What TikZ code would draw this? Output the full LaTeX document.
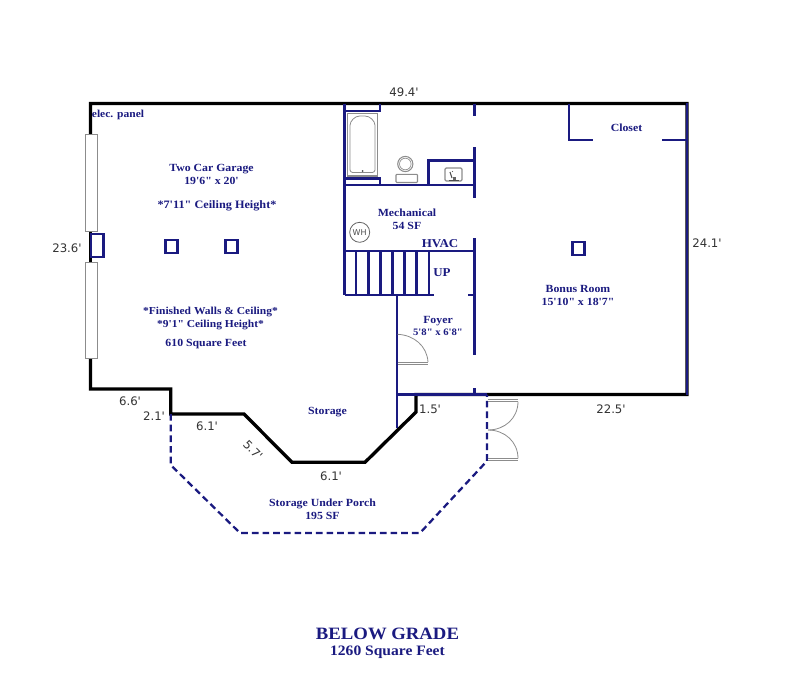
\documentclass[tikz,border=0pt]{standalone}
\usepackage{fontspec}
\setmainfont{Liberation Serif}[Ligatures=TeXOff,FakeStretch=1.08]
\newfontfamily\dimfont{DejaVu Sans}
\definecolor{navy}{HTML}{1A1A80}
\definecolor{fix}{HTML}{8C8C8C}
\tikzset{
  wall/.style={draw=black,line width=2.5pt,line join=miter},
  partition/.style={draw=navy,line width=1.9pt},
  dashwall/.style={draw=navy,line width=1.7pt,dash pattern=on 5pt off 3pt},
  fixture/.style={draw=fix,line width=0.6pt},
  slab/.style={draw=fix,line width=0.6pt,double=white,double distance=1.1pt},
  room/.style={text=navy,font=\bfseries\fontsize{8.2}{9.75}\selectfont,align=center,inner sep=0pt},
  dimlabel/.style={text=black!80,font=\dimfont\fontsize{8.8}{10}\selectfont,inner sep=0pt},
  post/.style={draw=navy,line width=1.7pt,fill=white}
}
\begin{document}
\begin{tikzpicture}[x=0.75pt,y=-0.75pt]
\useasboundingbox (0,0) rectangle (807,675);
% outer wall
\draw[wall] (90.5,135) -- (90.5,103.5) -- (687,103.5) -- (687,394.5) -- (416,394.5) -- (416,412) -- (365,462.3) -- (292,462.3) -- (244,414) -- (170.7,414) -- (170.7,389) -- (90.5,389) -- (90.5,355);
\draw[wall] (90.5,231) -- (90.5,262);
% navy overlays
\draw[partition] (687,102.5) -- (687,395);
\draw[partition] (397,394.5) -- (416,394.5);
\draw[partition] (416,394.5) -- (487,394.5);
% garage doors
\draw[fixture,fill=white] (85.5,134.5) rectangle (97.5,231);
\draw[fixture,fill=white] (85.5,262) rectangle (97.5,358.5);
% posts
\draw[post] (91,234) rectangle (103.5,257);
\draw[post] (165.5,240) rectangle (177.5,253);
\draw[post] (225.5,240) rectangle (237.5,253);
\draw[post] (572.5,242) rectangle (584.5,255);
% bath partitions
\draw[partition] (344.5,103.5) -- (344.5,295);
\draw[partition] (344.5,111) -- (380,111) -- (380,103.5);
\draw[partition] (344.5,178.7) -- (380,178.7) -- (380,185);
\draw[partition] (344.5,185) -- (474.7,185);
\draw[partition] (428.7,185) -- (428.7,160.5) -- (474.7,160.5);
\draw[partition] (474.7,103.5) -- (474.7,116);
\draw[partition] (474.7,147) -- (474.7,198);
\draw[partition] (474.7,238) -- (474.7,355);
\draw[partition] (474.7,388) -- (474.7,394.5);
\draw[partition] (468,295) -- (474.7,295);
% stairs
\draw[partition] (344.5,251) -- (474.7,251);
\draw[partition] (344.5,295) -- (434,295);
\foreach \sx in {356,368.3,380.3,392.7,404.7,416.7,429}{
  \draw[partition] (\sx,251) -- (\sx,295);
}
\draw[partition] (397,295) -- (397,428);
% closet
\draw[partition] (569,103.5) -- (569,140) -- (593,140);
\draw[partition] (662,140) -- (687,140);
% porch
\draw[dashwall] (170.7,414) -- (170.7,465) -- (240,533) -- (420,533) -- (487,461) -- (487,394.5);
% foyer door
\draw[slab] (397.5,363.3) -- (428,363.3);
\draw[fixture] (397.5,334.3) .. controls (414,335) and (427,346) .. (428,362);
% double doors
\draw[slab] (488,400.7) -- (518,400.7);
\draw[slab] (488,459.3) -- (518,459.3);
\draw[fixture] (518,401.5) .. controls (518,418) and (505,430) .. (488,430);
\draw[fixture] (518,458.5) .. controls (518,442) and (505,430) .. (488,430);
% tub
\draw[fixture,line width=0.9pt] (347.3,113.3) rectangle (377.3,176);
\draw[fixture,line width=0.6pt,rounded corners=2pt] (350,172.5) -- (350,128) .. controls (350,121) and (355,116) .. (362.3,116) .. controls (370,116) and (375,121) .. (375,128) -- (375,172.5) -- cycle;
\fill[black!70] (362.5,171) circle[radius=1];
% toilet
\draw[fixture,line width=0.8pt] (405.3,164) circle[radius=7.6];
\draw[fixture,line width=0.5pt] (405.3,164) circle[radius=5.8];
\draw[fixture,line width=0.8pt,fill=white,rounded corners=0.6pt] (396,174.3) rectangle (417.5,182.5);
% sink
\draw[fixture,line width=0.9pt,rounded corners=1pt] (445,168) rectangle (462,181);
\draw[black!70,line width=0.6pt] (449,180) -- (459,180);
\draw[black!70,line width=0.8pt] (450,172) -- (452,178);
\fill[black!60] (453,177) rectangle (456,180);
\fill[black!60] (452.5,171.5) circle[radius=0.6];
% water heater
\node[circle,draw=black!60,line width=0.6pt,minimum size=15pt,inner sep=0pt,font=\dimfont\fontsize{6}{7}\selectfont,text=black!70] (wh) at (359.7,232.3) {WH};
% room labels
\node[room,font=\bfseries\fontsize{8}{9}\selectfont] (panel) at (118,114.5) {elec. panel};
\node[room] (garage) at (211.5,174.5) {Two Car Garage\\19'6" x 20'};
\node[room,font=\bfseries\fontsize{8.5}{9.75}\selectfont] (ceil1) at (217,205.5) {*7'11" Ceiling Height*};
\node[room,font=\bfseries\fontsize{8}{9.75}\selectfont] (ceil2) at (210.5,318) {*Finished Walls \& Ceiling*\\*9'1" Ceiling Height*};
\node[room] (sqft) at (206,344.5) {610 Square Feet};
\node[room] (mech) at (407,219.5) {Mechanical\\54 SF};
\node[room,font=\bfseries\fontsize{9}{10}\selectfont] (hvac) at (440,244) {HVAC};
\node[room,font=\bfseries\fontsize{9}{10}\selectfont] (up) at (442,272.5) {UP};
\node[room,font=\bfseries\fontsize{8.2}{9.4}\selectfont] (foyer) at (438,326) {Foyer\\{\fontsize{7.4}{9}\selectfont 5'8" x 6'8"}};
\node[room] (bonus) at (578,295) {Bonus Room\\15'10" x 18'7"};
\node[room] (closet) at (626.5,127.5) {Closet};
\node[room] (storage) at (327.5,412.5) {Storage};
\node[room] (porch) at (322.5,509.5) {Storage Under Porch\\195 SF};
\node[text=navy,font=\bfseries\fontsize{13}{15}\selectfont,inner sep=0pt] (grade) at (387.5,634) {BELOW GRADE};
\node[text=navy,font=\bfseries\fontsize{10.8}{12}\selectfont,inner sep=0pt] (total) at (387.5,652) {1260 Square Feet};
% dimensions
\node[dimlabel] (d1) at (404,92) {49.4'};
\node[dimlabel] (d2) at (67,248) {23.6'};
\node[dimlabel] (d3) at (707,243) {24.1'};
\node[dimlabel] (d4) at (130,401) {6.6'};
\node[dimlabel] (d5) at (154,416) {2.1'};
\node[dimlabel] (d6) at (207,426) {6.1'};
\node[dimlabel,rotate=-45] (d7) at (253,450) {5.7'};
\node[dimlabel] (d8) at (331,476) {6.1'};
\node[dimlabel] (d9) at (430,409) {1.5'};
\node[dimlabel] (d10) at (611,409) {22.5'};
\end{tikzpicture}
\end{document}
